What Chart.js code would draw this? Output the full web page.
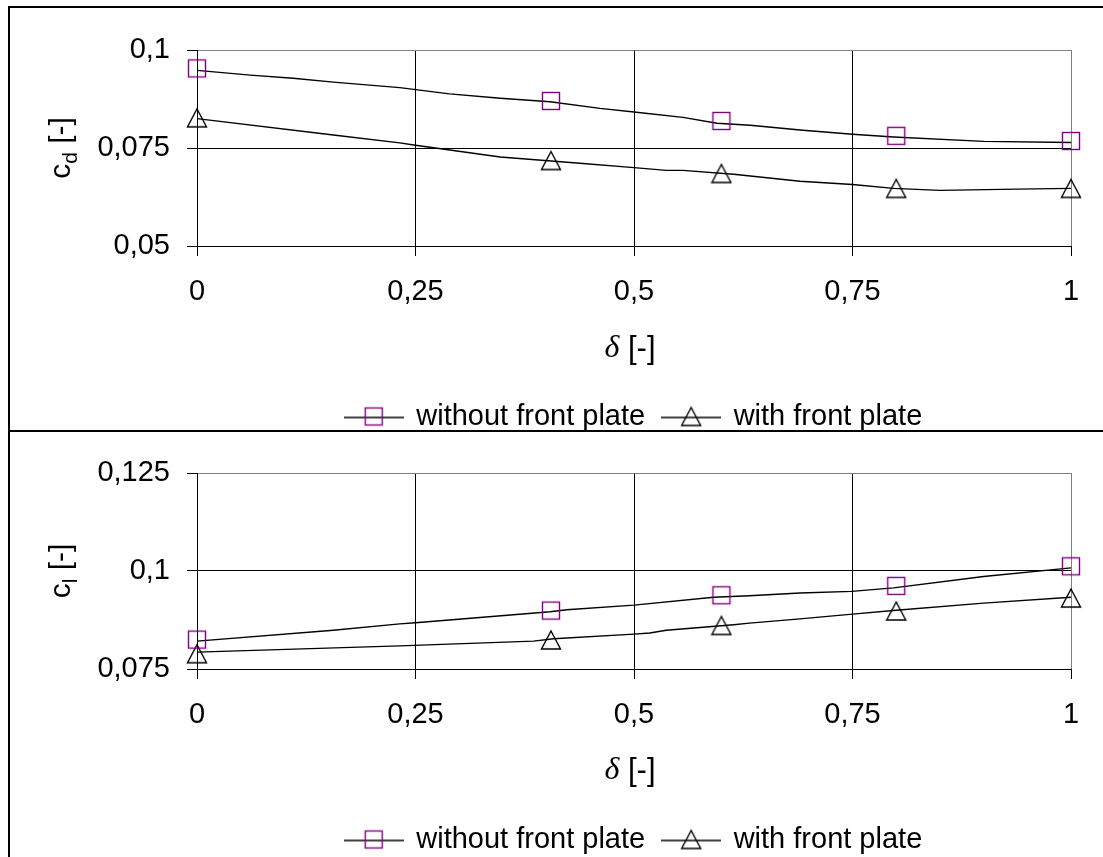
<!DOCTYPE html>
<html>
<head>
<meta charset="utf-8">
<script src="https://cdn.jsdelivr.net/npm/chart.js@4.4.1/dist/chart.umd.min.js"></script>
<style>
    html, body { margin: 0; padding: 0; background: #fff; overflow: hidden; }
    body { width: 1103px; height: 857px; position: relative; }
    canvas { position: absolute; left: 0; }
    #cdChart { top: 0; }
    #clChart { top: 430px; }
    .frame { position: absolute; border: 0 solid #000; }
    #frameTop { left: 8px; top: 6px; width: 1110px; height: 422px; border-width: 2px 0 2px 2px; }
    #frameBottom { left: 8px; top: 430px; width: 1110px; height: 500px; border-left-width: 2px; }
</style>
</head>
<body>
<div class="frame" id="frameTop"></div>
<div class="frame" id="frameBottom"></div>
<canvas id="cdChart" width="1103" height="441"></canvas>
<canvas id="clChart" width="1103" height="434"></canvas>

<script>
// measured points
const DELTA = [0, 0.405, 0.6, 0.8, 1];
const CD_WITHOUT = [0.0953, 0.087, 0.0819, 0.0781, 0.0768];
const CD_WITH = [0.0827, 0.0718, 0.0685, 0.0647, 0.0647];
const CL_WITHOUT = [0.0825, 0.0899, 0.0938, 0.0962, 0.1012];
const CL_WITH = [0.0789, 0.0824, 0.0861, 0.0898, 0.0931];

// fitted curves
const CD_WITHOUT_FIT_X = [0, 0.061, 0.11, 0.156, 0.232, 0.289, 0.347, 0.404, 0.461, 0.5, 0.556, 0.595, 0.633, 0.69, 0.75, 0.797, 0.9, 1];
const CD_WITHOUT_FIT = [0.0948, 0.0936, 0.0928, 0.0918, 0.0904, 0.0888, 0.0877, 0.0868, 0.0851, 0.0842, 0.0828, 0.0813, 0.0808, 0.0796, 0.0785, 0.0778, 0.0767, 0.0764];
const CD_WITH_FIT_X = [0, 0.156, 0.232, 0.25, 0.347, 0.438, 0.5, 0.537, 0.556, 0.614, 0.69, 0.75, 0.797, 0.85, 0.938, 1];
const CD_WITH_FIT = [0.0825, 0.0783, 0.0763, 0.0757, 0.0727, 0.0711, 0.07, 0.0693, 0.0693, 0.0683, 0.0665, 0.0657, 0.0647, 0.0642, 0.0645, 0.0647];
const CL_WITHOUT_FIT_X = [0, 0.156, 0.232, 0.25, 0.404, 0.423, 0.5, 0.591, 0.632, 0.69, 0.749, 0.797, 0.9, 1];
const CL_WITHOUT_FIT = [0.0821, 0.0849, 0.0865, 0.0868, 0.0896, 0.0901, 0.0913, 0.0933, 0.0937, 0.0944, 0.0948, 0.0957, 0.0986, 0.1008];
const CL_WITH_FIT_X = [0, 0.232, 0.385, 0.408, 0.5, 0.518, 0.537, 0.614, 0.632, 0.69, 0.75, 0.8, 0.9, 1];
const CL_WITH_FIT = [0.0793, 0.0809, 0.0821, 0.0827, 0.0839, 0.0842, 0.0849, 0.0863, 0.0867, 0.0878, 0.089, 0.09, 0.0918, 0.0933];

const X_TICKS = [0, 0.25, 0.5, 0.75, 1];
const SERIES_LABELS = ["without front plate", "with front plate"];

const PURPLE = "#800080";
const GREY = "#808080";
const SANS = "'Liberation Sans', Arial, sans-serif";

window.DeltaCharts = (() => {
    function fmt(v) {
        return String(+v.toFixed(4)).replace(".", ",");
    }

    function toPoints(xs, ys) {
        return xs.map((x, i) => ({ x: x, y: ys[i] }));
    }

    function drawSquare(g, cx, cy) {
        g.strokeStyle = PURPLE;
        g.lineWidth = 1.4;
        g.strokeRect(cx - 8.5, cy - 8.5, 17, 17);
    }

    function drawTriangle(g, cx, cy) {
        g.strokeStyle = "#000";
        g.lineWidth = 1.4;
        g.beginPath();
        g.moveTo(cx, cy - 9);
        g.lineTo(cx + 9.5, cy + 9);
        g.lineTo(cx - 9.5, cy + 9);
        g.closePath();
        g.stroke();
    }

    function marker(draw) {
        const c = document.createElement("canvas");
        c.width = 22;
        c.height = 22;
        draw(c.getContext("2d"), 11, 11);
        return c;
    }

    function legendIcon(draw) {
        const c = document.createElement("canvas");
        c.width = 60;
        c.height = 24;
        const g = c.getContext("2d");
        g.strokeStyle = "#000";
        g.lineWidth = 1.4;
        g.beginPath();
        g.moveTo(0, 13);
        g.lineTo(60, 13);
        g.stroke();
        draw(g, 30, 12);
        return c;
    }

    const squareMarker = marker(drawSquare);
    const triangleMarker = marker(drawTriangle);
    const squareIcon = legendIcon(drawSquare);
    const triangleIcon = legendIcon(drawTriangle);

    // δ [-] under the x axis and c_sub [-] along the y axis
    const axisTitles = {
        id: "axisTitles",
        afterDraw(chart, args, opts) {
            const { ctx, chartArea } = chart;
            const serif = "italic 32px 'Liberation Serif', serif";
            const sans = "31px " + SANS;
            ctx.save();
            ctx.fillStyle = "#000";

            ctx.textBaseline = "middle";
            ctx.font = serif;
            const wDelta = ctx.measureText("δ").width;
            ctx.font = sans;
            const wRest = ctx.measureText(" [-]").width;
            let x = (chartArea.left + chartArea.right) / 2 - 4 - (wDelta + wRest) / 2;
            const y = chartArea.bottom + opts.xOffset;
            ctx.font = serif;
            ctx.fillText("δ", x, y);
            ctx.font = sans;
            ctx.fillText(" [-]", x + wDelta, y);

            ctx.translate(70, (chartArea.top + chartArea.bottom) / 2);
            ctx.rotate(-Math.PI / 2);
            ctx.textBaseline = "alphabetic";
            ctx.font = "30px " + SANS;
            const wc = ctx.measureText("c").width;
            const wr = ctx.measureText(" [-]").width;
            ctx.font = "21px " + SANS;
            const ws = ctx.measureText(opts.sub).width;
            let t = -(wc + ws + wr) / 2;
            ctx.font = "30px " + SANS;
            ctx.fillText("c", t, 0);
            ctx.font = "21px " + SANS;
            ctx.fillText(opts.sub, t + wc, 7);
            ctx.font = "30px " + SANS;
            ctx.fillText(" [-]", t + wc + ws, 0);
            ctx.restore();
        },
    };

    function createChart(elementId, cfg) {
        const canvas = document.getElementById(elementId);

        if (!canvas) {
            return;
        }

        new Chart(canvas.getContext("2d"), {
            type: "scatter",

            data: {
                datasets: [
                    {
                        label: SERIES_LABELS[0],
                        data: toPoints(DELTA, cfg.without),
                        showLine: false,
                        pointStyle: squareMarker,
                        pointRadius: 10,
                        clip: false,
                    },
                    {
                        label: SERIES_LABELS[1],
                        data: toPoints(DELTA, cfg.withPlate),
                        showLine: false,
                        pointStyle: triangleMarker,
                        pointRadius: 10,
                        clip: false,
                    },
                    {
                        label: "fit 1",
                        data: toPoints(cfg.withoutFitX, cfg.withoutFit),
                        showLine: true,
                        borderColor: "#000",
                        borderWidth: 1.4,
                        pointRadius: 0,
                        tension: 0,
                    },
                    {
                        label: "fit 2",
                        data: toPoints(cfg.withFitX, cfg.withFit),
                        showLine: true,
                        borderColor: "#000",
                        borderWidth: 1.4,
                        pointRadius: 0,
                        tension: 0,
                    },
                ],
            },

            options: {
                responsive: false,
                animation: false,
                events: [],

                layout: {
                    padding: { left: 0, right: 32, top: cfg.top, bottom: 0 },
                },

                scales: {
                    x: {
                        type: "linear",
                        min: 0,
                        max: 1,
                        afterFit(scale) {
                            scale.height = 138;
                        },
                        afterBuildTicks(scale) {
                            scale.ticks = X_TICKS.map((v) => ({ value: v }));
                        },
                        ticks: {
                            callback: (v) => fmt(v),
                            color: "#000",
                            padding: 19,
                            maxRotation: 0,
                            font: { family: SANS, size: 29 },
                        },
                        grid: {
                            color: (c) => (c.tick && c.tick.value === 1 ? GREY : "#000"),
                            tickColor: "#000",
                            tickLength: 10,
                            lineWidth: 1,
                        },
                        border: { color: "#000", width: 1 },
                    },
                    y: {
                        type: "linear",
                        min: cfg.yTicks[0],
                        max: cfg.yTicks[cfg.yTicks.length - 1],
                        afterFit(scale) {
                            scale.width = 197;
                        },
                        afterBuildTicks(scale) {
                            scale.ticks = cfg.yTicks.map((v) => ({ value: v }));
                        },
                        ticks: {
                            callback: (v) => fmt(v),
                            color: "#000",
                            padding: 17,
                            font: { family: SANS, size: 29 },
                        },
                        grid: {
                            color: (c) => (c.tick && c.tick.value === cfg.yTicks[cfg.yTicks.length - 1] ? GREY : "#000"),
                            tickColor: "#000",
                            tickLength: 10,
                            lineWidth: 1,
                        },
                        border: { color: "#000", width: 1 },
                    },
                },

                plugins: {
                    legend: {
                        position: "bottom",
                        fullSize: false,
                        labels: {
                            usePointStyle: true,
                            pointStyleWidth: 56,
                            padding: 18,
                            color: "#000",
                            font: { family: SANS, size: 29 },
                            generateLabels: () => [
                                { text: SERIES_LABELS[0], pointStyle: squareIcon, lineWidth: 0, hidden: false, datasetIndex: 0, fontColor: "#000" },
                                { text: SERIES_LABELS[1], pointStyle: triangleIcon, lineWidth: 0, hidden: false, datasetIndex: 1, fontColor: "#000" },
                            ],
                        },
                    },
                    tooltip: { enabled: false },
                    axisTitles: { sub: cfg.sub, xOffset: cfg.xOffset },
                },
            },

            plugins: [axisTitles],
        });
    }

    function init() {
        createChart("cdChart", {
            without: CD_WITHOUT,
            withPlate: CD_WITH,
            withoutFitX: CD_WITHOUT_FIT_X,
            withoutFit: CD_WITHOUT_FIT,
            withFitX: CD_WITH_FIT_X,
            withFit: CD_WITH_FIT,
            yTicks: [0.05, 0.075, 0.1],
            sub: "d",
            top: 50,
            xOffset: 103,
        });

        createChart("clChart", {
            without: CL_WITHOUT,
            withPlate: CL_WITH,
            withoutFitX: CL_WITHOUT_FIT_X,
            withoutFit: CL_WITHOUT_FIT,
            withFitX: CL_WITH_FIT_X,
            withFit: CL_WITH_FIT,
            yTicks: [0.075, 0.1, 0.125],
            sub: "l",
            top: 43,
            xOffset: 102,
        });
    }

    return {
        init,
    };
})();

DeltaCharts.init();
</script>
</body>
</html>
